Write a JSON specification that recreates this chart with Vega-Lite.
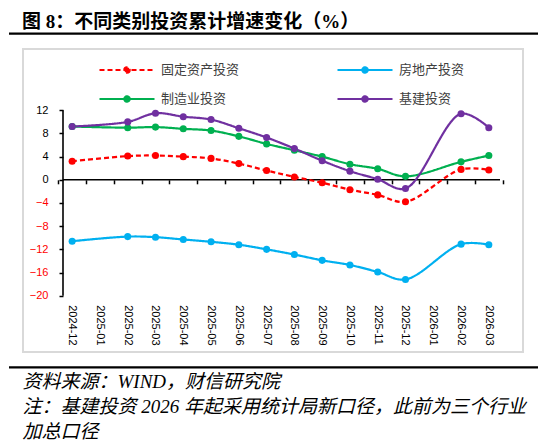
{
  "$schema": "https://vega.github.io/schema/vega-lite/v6.json",
  "width": 500,
  "height": 303,
  "autosize": {"type": "none"},
  "padding": {"left": 23, "top": 49, "right": 27, "bottom": 93},
  "background": "white",
  "config": {"view": {"stroke": "#d9d9d9", "strokeWidth": 2}, "axis": {"grid": false}},
  "title": {
    "text": "图 8：不同类别投资累计增速变化（%）",
    "anchor": "start",
    "frame": "group",
    "dx": -1,
    "dy": 23,
    "offset": 8,
    "font": "Liberation Serif, Noto Sans CJK SC",
    "fontSize": 19,
    "fontWeight": "bold",
    "color": "black",
    "baseline": "alphabetic"
  },
  "datasets": {
    "invest": [
      {"month": "2024-12", "series": "固定资产投资", "value": 3.2},
      {"month": "2025-02", "series": "固定资产投资", "value": 4.1},
      {"month": "2025-03", "series": "固定资产投资", "value": 4.2},
      {"month": "2025-04", "series": "固定资产投资", "value": 4.0},
      {"month": "2025-05", "series": "固定资产投资", "value": 3.7},
      {"month": "2025-06", "series": "固定资产投资", "value": 2.8},
      {"month": "2025-07", "series": "固定资产投资", "value": 1.6},
      {"month": "2025-08", "series": "固定资产投资", "value": 0.5},
      {"month": "2025-09", "series": "固定资产投资", "value": -0.5},
      {"month": "2025-10", "series": "固定资产投资", "value": -1.7},
      {"month": "2025-11", "series": "固定资产投资", "value": -2.6},
      {"month": "2025-12", "series": "固定资产投资", "value": -3.8},
      {"month": "2026-02", "series": "固定资产投资", "value": 1.8},
      {"month": "2026-03", "series": "固定资产投资", "value": 1.7},
      {"month": "2024-12", "series": "房地产投资", "value": -10.6},
      {"month": "2025-02", "series": "房地产投资", "value": -9.8},
      {"month": "2025-03", "series": "房地产投资", "value": -9.9},
      {"month": "2025-04", "series": "房地产投资", "value": -10.3},
      {"month": "2025-05", "series": "房地产投资", "value": -10.7},
      {"month": "2025-06", "series": "房地产投资", "value": -11.2},
      {"month": "2025-07", "series": "房地产投资", "value": -12.0},
      {"month": "2025-08", "series": "房地产投资", "value": -12.9},
      {"month": "2025-09", "series": "房地产投资", "value": -13.9},
      {"month": "2025-10", "series": "房地产投资", "value": -14.7},
      {"month": "2025-11", "series": "房地产投资", "value": -15.9},
      {"month": "2025-12", "series": "房地产投资", "value": -17.2},
      {"month": "2026-02", "series": "房地产投资", "value": -11.1},
      {"month": "2026-03", "series": "房地产投资", "value": -11.2},
      {"month": "2024-12", "series": "制造业投资", "value": 9.2},
      {"month": "2025-02", "series": "制造业投资", "value": 9.0},
      {"month": "2025-03", "series": "制造业投资", "value": 9.1},
      {"month": "2025-04", "series": "制造业投资", "value": 8.8},
      {"month": "2025-05", "series": "制造业投资", "value": 8.5},
      {"month": "2025-06", "series": "制造业投资", "value": 7.5},
      {"month": "2025-07", "series": "制造业投资", "value": 6.2},
      {"month": "2025-08", "series": "制造业投资", "value": 5.1},
      {"month": "2025-09", "series": "制造业投资", "value": 4.0},
      {"month": "2025-10", "series": "制造业投资", "value": 2.7},
      {"month": "2025-11", "series": "制造业投资", "value": 1.9},
      {"month": "2025-12", "series": "制造业投资", "value": 0.6},
      {"month": "2026-02", "series": "制造业投资", "value": 3.1},
      {"month": "2026-03", "series": "制造业投资", "value": 4.2},
      {"month": "2024-12", "series": "基建投资", "value": 9.2},
      {"month": "2025-02", "series": "基建投资", "value": 10.0},
      {"month": "2025-03", "series": "基建投资", "value": 11.5},
      {"month": "2025-04", "series": "基建投资", "value": 10.9},
      {"month": "2025-05", "series": "基建投资", "value": 10.4},
      {"month": "2025-06", "series": "基建投资", "value": 8.9},
      {"month": "2025-07", "series": "基建投资", "value": 7.3},
      {"month": "2025-08", "series": "基建投资", "value": 5.4},
      {"month": "2025-09", "series": "基建投资", "value": 3.3},
      {"month": "2025-10", "series": "基建投资", "value": 1.5},
      {"month": "2025-11", "series": "基建投资", "value": 0.1},
      {"month": "2025-12", "series": "基建投资", "value": -1.5},
      {"month": "2026-02", "series": "基建投资", "value": 11.4},
      {"month": "2026-03", "series": "基建投资", "value": 9.0}
    ]
  },
  "layer": [
    {
      "layer": [
        {
          "data": {"values": [{}]},
          "mark": {"type": "rule", "color": "black", "strokeWidth": 2.2},
          "encoding": {
            "x": {"datum": -0.028, "type": "quantitative", "scale": {"domain": [0, 1], "nice": false, "zero": false}, "axis": null},
            "x2": {"datum": 1.03},
            "y": {"datum": 25.25, "type": "quantitative", "scale": {"domain": [-29.72, 22.58], "nice": false, "zero": false}, "axis": null}
          }
        },
        {
          "data": {"values": [{}]},
          "mark": {"type": "rule", "color": "black", "strokeWidth": 2.2},
          "encoding": {
            "x": {"datum": -0.028, "type": "quantitative", "scale": {"domain": [0, 1], "nice": false, "zero": false}, "axis": null},
            "x2": {"datum": 1.03},
            "y": {"datum": -32.39, "type": "quantitative", "scale": {"domain": [-29.72, 22.58], "nice": false, "zero": false}, "axis": null}
          }
        },
        {
          "data": {"values": [{}]},
          "mark": {"type": "rule", "color": "black", "strokeWidth": 1.6},
          "encoding": {
            "x": {"datum": 0.08, "type": "quantitative", "scale": {"domain": [0, 1], "nice": false, "zero": false}, "axis": null},
            "x2": {"datum": 0.954},
            "y": {"datum": 0, "type": "quantitative", "scale": {"domain": [-29.72, 22.58], "nice": false, "zero": false}, "axis": null}
          }
        },
        {
          "data": {"values": [{}]},
          "mark": {"type": "rule", "color": "black", "strokeWidth": 1.6},
          "encoding": {
            "x": {"datum": 0.08, "type": "quantitative", "scale": {"domain": [0, 1], "nice": false, "zero": false}, "axis": null},
            "y": {"datum": -20, "type": "quantitative", "scale": {"domain": [-29.72, 22.58], "nice": false, "zero": false}, "axis": null},
            "y2": {"datum": 12}
          }
        }
      ],
      "resolve": {"axis": {"x": "independent", "y": "independent"}}
    },
    {
      "data": {"name": "invest"},
      "layer": [
        {
          "mark": {"type": "line", "strokeWidth": 2.2, "interpolate": "catmull-rom"},
          "encoding": {
            "x": {
              "field": "month",
              "type": "ordinal",
              "scale": {
                "type": "band",
                "domain": ["2024-12", "2025-01", "2025-02", "2025-03", "2025-04", "2025-05", "2025-06", "2025-07", "2025-08", "2025-09", "2025-10", "2025-11", "2025-12", "2026-01", "2026-02", "2026-03"],
                "paddingInner": 0,
                "paddingOuter": 1.1533,
                "align": 0.6349
              },
              "axis": {
                "orient": "bottom",
                "offset": -56.3,
                "domain": false,
                "ticks": false,
                "tickSize": 0,
                "grid": false,
                "labelAngle": 90,
                "labelPadding": 9,
                "labelFont": "Liberation Sans",
                "labelFontSize": 11,
                "labelColor": "black",
                "labelOverlap": false,
                "title": ["资料来源：WIND，财信研究院", "注：基建投资 2026 年起采用统计局新口径，此前为三个行业", "加总口径"],
                "titleFont": "Liberation Serif, Noto Sans CJK SC",
                "titleFontStyle": "italic",
                "titleFontWeight": "normal",
                "titleFontSize": 19,
                "titleColor": "black",
                "titleAlign": "left",
                "titleAnchor": "start",
                "titleBaseline": "top",
                "titleX": -1,
                "titleY": 77,
                "titleLineHeight": 25
              }
            },
            "y": {
              "field": "value",
              "type": "quantitative",
              "scale": {"domain": [-29.72, 22.58], "nice": false, "zero": false},
              "axis": {
                "orient": "left",
                "offset": -40,
                "domain": false,
                "ticks": true,
                "tickSize": 4,
                "tickWidth": 1.5,
                "tickColor": "black",
                "grid": false,
                "values": [-20, -16, -12, -8, -4, 0, 4, 8, 12],
                "labelFont": "Liberation Sans",
                "labelFontSize": 11,
                "labelPadding": 11,
                "labelColor": {"condition": {"test": "datum.value < 0", "value": "#ff0000"}, "value": "#000000"},
                "title": null
              }
            },
            "color": {
              "field": "series",
              "type": "nominal",
              "scale": {"domain": ["固定资产投资", "制造业投资", "房地产投资", "基建投资"], "range": ["#ff0000", "#00b050", "#00b0f0", "#7030a0"]},
              "legend": {
                "orient": "none",
                "legendX": 93,
                "legendY": 10,
                "columns": 2,
                "columnPadding": 93,
                "rowPadding": 11,
                "padding": 0,
                "title": null,
                "symbolType": "M-2.75,0H2.75M0.275,0A0.275,0.275,0,1,1,-0.275,0A0.275,0.275,0,1,1,0.275,0Z",
                "symbolSize": 400,
                "symbolStrokeWidth": 2,
                "labelFont": "Noto Sans CJK SC",
                "labelFontSize": 13,
                "labelColor": "#404040",
                "labelOffset": 23,
                "encode": {"symbols": {"update": {"fill": {"scale": "color", "field": "value"}}}}
              }
            },
            "strokeDash": {
              "field": "series",
              "type": "nominal",
              "scale": {"domain": ["固定资产投资", "制造业投资", "房地产投资", "基建投资"], "range": [[5, 3], [1, 0], [1, 0], [1, 0]]},
              "legend": {
                "orient": "none",
                "legendX": 93,
                "legendY": 10,
                "columns": 2,
                "columnPadding": 93,
                "rowPadding": 11,
                "padding": 0,
                "title": null,
                "symbolType": "M-2.75,0H2.75M0.275,0A0.275,0.275,0,1,1,-0.275,0A0.275,0.275,0,1,1,0.275,0Z",
                "symbolSize": 400,
                "symbolStrokeWidth": 2,
                "labelFont": "Noto Sans CJK SC",
                "labelFontSize": 13,
                "labelColor": "#404040",
                "labelOffset": 23,
                "encode": {"symbols": {"update": {"fill": {"scale": "color", "field": "value"}}}}
              }
            }
          }
        },
        {
          "mark": {"type": "point", "filled": true, "size": 50, "opacity": 1},
          "encoding": {
            "x": {
              "field": "month",
              "type": "ordinal",
              "scale": {
                "type": "band",
                "domain": ["2024-12", "2025-01", "2025-02", "2025-03", "2025-04", "2025-05", "2025-06", "2025-07", "2025-08", "2025-09", "2025-10", "2025-11", "2025-12", "2026-01", "2026-02", "2026-03"],
                "paddingInner": 0,
                "paddingOuter": 1.1533,
                "align": 0.6349
              },
              "axis": {
                "orient": "bottom",
                "offset": -172.2,
                "domain": false,
                "ticks": true,
                "tickBand": "extent",
                "tickSize": 4,
                "tickWidth": 1.5,
                "tickColor": "black",
                "labels": false,
                "grid": false,
                "title": null
              }
            },
            "y": {
              "field": "value",
              "type": "quantitative",
              "scale": {"domain": [-29.72, 22.58], "nice": false, "zero": false},
              "axis": null
            },
            "color": {
              "field": "series",
              "type": "nominal",
              "scale": {"domain": ["固定资产投资", "制造业投资", "房地产投资", "基建投资"], "range": ["#ff0000", "#00b050", "#00b0f0", "#7030a0"]},
              "legend": null
            }
          }
        }
      ],
      "resolve": {"axis": {"x": "independent", "y": "independent"}, "legend": {"color": "independent", "strokeDash": "independent"}}
    }
  ],
  "resolve": {"scale": {"x": "independent"}, "axis": {"x": "independent", "y": "independent"}}
}
